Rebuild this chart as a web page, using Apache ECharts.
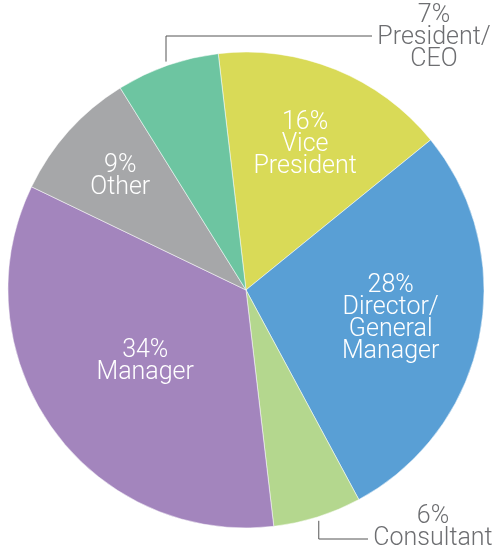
<!DOCTYPE html>
<html>
<head>
<meta charset="utf-8">
<script src="https://cdn.jsdelivr.net/npm/echarts@6/dist/echarts.min.js"></script>
<style>
  html, body { margin: 0; padding: 0; background: #fff; }
  #main { width: 498px; height: 554px; }
</style>
</head>
<body>
<div id="main"></div>
<script>
// slices, clockwise from the top
var names = ['Vice\nPresident', 'Director/\nGeneral\nManager', 'Consultant', 'Manager', 'Other', 'President/\nCEO'];
var values = [16, 28, 6, 34, 9, 7];
var colors = ['#d9da57', '#599fd5', '#b4d78e', '#a385bd', '#a6a7a9', '#6dc5a1'];

var cx = 246, cy = 290, R = 238, startAngle = 96.7;
var labelFont = 'Roboto, "Liberation Sans", sans-serif';

// label placement: radial fraction for inside labels, fixed boxes for the two outside ones
var insideFrac = [0.66, 0.62, 0, 0.52, 0.71, 0];
var outsideLab = {
    2: { x: 433, y: 528, lineY: 539, lineEndX: 368 },
    5: { x: 434, y: 38, lineY: 36, lineEndX: 372 }
};

var total = values.reduce(function (a, b) { return a + b; }, 0);
var midAngles = [];
var acc = startAngle;
for (var i = 0; i < values.length; i++) {
    var span = values[i] / total * 360;
    midAngles.push(acc - span / 2);
    acc -= span;
}

var data = names.map(function (n, i) {
    var out = !!outsideLab[i];
    return {
        name: n,
        value: values[i],
        itemStyle: { color: colors[i] },
        label: { position: out ? 'outside' : 'inside', color: out ? '#6d6e71' : '#fff' },
        labelLine: { show: out }
    };
});

var chart = echarts.init(document.getElementById('main'));
chart.setOption({
    animation: false,
    series: [{
        type: 'pie',
        center: [cx, cy],
        radius: [0, R],
        startAngle: startAngle,
        clockwise: true,
        avoidLabelOverlap: false,
        itemStyle: { borderColor: '#fff', borderWidth: 0.5 },
        label: {
            formatter: '{c}%\n{b}',
            fontFamily: labelFont,
            fontWeight: 300,
            fontSize: 25,
            lineHeight: 22,
            align: 'center'
        },
        labelLine: { lineStyle: { color: '#555', width: 1 } },
        labelLayout: function (p) {
            var i = p.dataIndex;
            var a = midAngles[i] * Math.PI / 180;
            var o = outsideLab[i];
            if (o) {
                var ex = cx + (R + 4) * Math.cos(a);
                var ey = cy - (R + 4) * Math.sin(a);
                return {
                    x: o.x, y: o.y, align: 'center', verticalAlign: 'middle',
                    labelLinePoints: [[ex, ey], [ex, o.lineY], [o.lineEndX, o.lineY]]
                };
            }
            var r = R * insideFrac[i];
            return {
                x: cx + r * Math.cos(a),
                y: cy - r * Math.sin(a),
                align: 'center', verticalAlign: 'middle'
            };
        },
        data: data
    }]
});
</script>
</body>
</html>
